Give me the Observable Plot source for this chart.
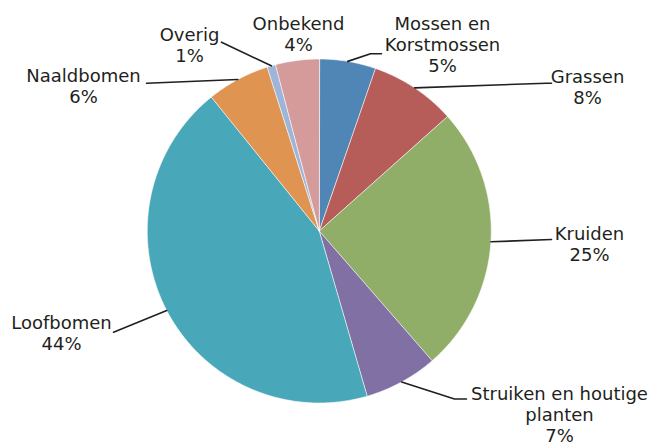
<!DOCTYPE html>
<html><head><meta charset="utf-8">
<script src="https://cdn.jsdelivr.net/npm/d3@7"></script>
<script src="https://cdn.jsdelivr.net/npm/@observablehq/plot@0.6"></script>
<style>body{margin:0;background:#fff;} #chart{width:652px;height:447px;}</style>
</head><body><div id="chart"></div>
<script>
// ---- data ----
const categories = ["Mossen en Korstmossen","Grassen","Kruiden","Struiken en houtige planten","Loofbomen","Naaldbomen","Overig","Onbekend"];
const shares = [5.3, 8.1, 25.2, 6.9, 43.7, 5.9, 0.8, 4.1];
const percentLabels = ["5%","8%","25%","7%","44%","6%","1%","4%"];
const nameLines = [["Mossen en","Korstmossen"],["Grassen"],["Kruiden"],["Struiken en houtige","planten"],["Loofbomen"],["Naaldbomen"],["Overig"],["Onbekend"]];
const sliceColors = ["#4f86b5","#b65d5a","#90ae67","#8170a3","#48a7b8","#e09452","#9cb5d9","#d59b9b"];

// ---- layout ----
const W = 652, H = 447, cx = 318.75, cy = 230.5, R = 172;
const FS = 18, LHEM = 1.175;
const labelX = [442, 587, 589, 559, 61, 83, 189, 298];
const firstBaseline = [30.5, 82.7, 240, 400.5, 329.3, 81.7, 40.7, 30];
const elbows = [[[370,53.3],[381,53.3]], [[546,82.7],[551,82.7]], [[551,239]], [[454,398.5],[466,398.5]], [[113,331.7]], [[146,82.7]], [[221,41.7]], null];

const arcs = d3.pie().sort(null).value(d => d)(shares);

const slicePts = [];
arcs.forEach((a, i) => {
  slicePts.push({cat: categories[i], x: cx, y: cy});
  const n = Math.max(4, Math.ceil((a.endAngle - a.startAngle) / 0.01));
  for (let k = 0; k <= n; k++) {
    const t = a.startAngle + (a.endAngle - a.startAngle) * k / n;
    slicePts.push({cat: categories[i], x: cx + R * Math.sin(t), y: cy - R * Math.cos(t)});
  }
});

const leaderPts = [];
arcs.forEach((a, i) => {
  if (!elbows[i]) return;
  const m = (a.startAngle + a.endAngle) / 2;
  leaderPts.push({cat: categories[i], x: cx + R * Math.sin(m), y: cy - R * Math.cos(m)});
  elbows[i].forEach(([x, y]) => leaderPts.push({cat: categories[i], x, y}));
});

const labels = categories.map((c, i) => {
  const lines = [...nameLines[i], percentLabels[i]];
  const refLH = 20, myLH = LHEM * FS;
  const first = firstBaseline[i] - (lines.length - 1) * (myLH - refLH) / 2;
  return {x: labelX[i], y: first - 0.71 * LHEM * FS, text: lines.join("\n")};
});

const chart = Plot.plot({
  width: W, height: H,
  margin: 0,
  x: {domain: [0, W], range: [0, W], axis: null},
  y: {domain: [0, H], range: [0, H], axis: null},
  color: {domain: categories, range: sliceColors},
  style: {fontFamily: "'DejaVu Sans', sans-serif", background: "#fff"},
  marks: [
    Plot.line(slicePts, {x: "x", y: "y", z: "cat", fill: "cat", stroke: "#ffffff", strokeWidth: 0.6, curve: "linear-closed"}),
    Plot.line(leaderPts, {x: "x", y: "y", z: "cat", stroke: "#231f20", strokeWidth: 1.6}),
    Plot.text(labels, {x: "x", y: "y", text: "text", fontSize: FS, lineHeight: LHEM, fill: "#231f20", textAnchor: "middle", lineAnchor: "top", fontFamily: "DejaVu Sans"})
  ]
});
document.getElementById("chart").appendChild(chart);
</script>
</body></html>
